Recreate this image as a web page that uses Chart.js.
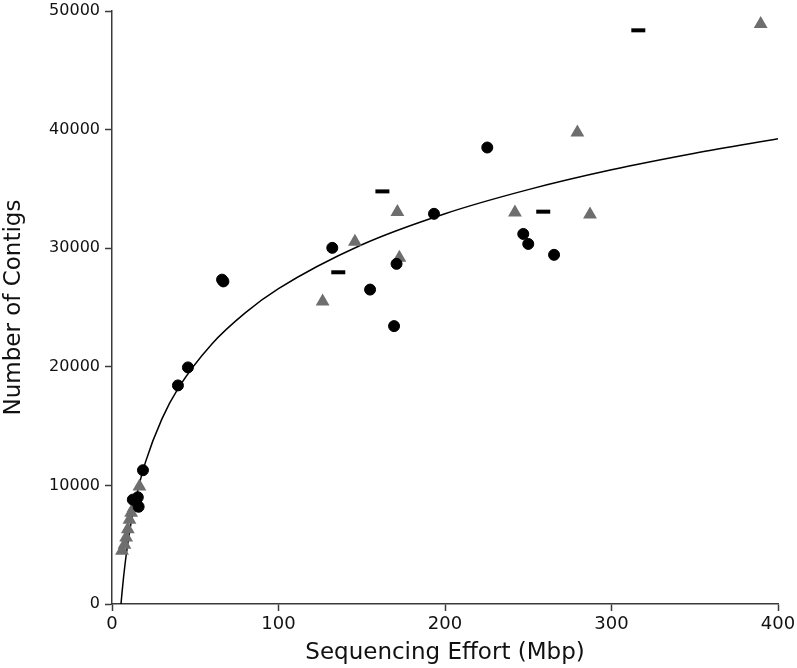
<!DOCTYPE html>
<html>
<head>
<meta charset="utf-8">
<script src="https://cdn.jsdelivr.net/npm/chart.js@4.4.1/dist/chart.umd.min.js"></script>
<style>
  html, body { margin: 0; padding: 0; background: #fff; }
  canvas { display: block; }
</style>
</head>
<body>
<canvas id="contigs" width="797" height="668"></canvas>
<script>
// Sequencing effort (Mbp) vs number of contigs

// black circles
const circleX = [12.5, 14.5, 15.5, 16, 18.6, 39.6, 45.6, 66.1, 66.9, 132.3, 155, 169.4, 170.9, 193.4, 225.4, 247, 250, 265.5];
const circleY = [8800, 8700, 9000, 8200, 11280, 18430, 19950, 27350, 27200, 30030, 26510, 23430, 28680, 32900, 38490, 31200, 30360, 29440];

// grey triangles
const triX = [6, 7.5, 8.5, 9.5, 10.5, 11.5, 13, 14.5, 16.5, 126.5, 145.9, 171.4, 172.6, 242, 279.5, 287.1, 389.6];
const triY = [4500, 5000, 5600, 6300, 7100, 7700, 8100, 8800, 9900, 25500, 30550, 33050, 29200, 33000, 39750, 32850, 48900];

// black dashes
const dashX = [135.9, 162.4, 259, 316.1];
const dashY = [27970, 34790, 33080, 48370];

// fitted curve
const fitX = [5.4, 6, 7, 8, 10, 12, 15, 20, 30, 40, 60, 80, 100, 150, 200, 250, 300, 350, 400];
const fitY = [0, 940, 2340, 3560, 5600, 7260, 9290, 11920, 15610, 18240, 21930, 24550, 26590, 30290, 32910, 34940, 36610, 38010, 39230];

const xTicks = [0, 100, 200, 300, 400];
const yTicks = [0, 10000, 20000, 30000, 40000, 50000];

const toPoints = (xs, ys) => xs.map((x, i) => ({ x: x, y: ys[i] }));

const axisColor = '#3a3a3a';

new Chart(document.getElementById('contigs'), {
    type: 'scatter',
    data: {
        datasets: [
            {
                label: 'circles',
                data: toPoints(circleX, circleY),
                pointStyle: 'circle',
                pointRadius: 5.5,
                backgroundColor: '#000',
                borderColor: '#000',
                borderWidth: 1,
                order: 1
            },
            {
                label: 'dashes',
                data: toPoints(dashX, dashY),
                pointStyle: 'line',
                pointRadius: 7,
                borderColor: '#000',
                borderWidth: 4,
                order: 2
            },
            {
                label: 'triangles',
                data: toPoints(triX, triY),
                pointStyle: 'triangle',
                pointRadius: 8,
                backgroundColor: '#6e6e6e',
                borderColor: '#6e6e6e',
                borderWidth: 0,
                order: 3
            },
            {
                label: 'fit',
                data: toPoints(fitX, fitY),
                showLine: true,
                pointRadius: 0,
                borderColor: '#000',
                borderWidth: 1.5,
                cubicInterpolationMode: 'monotone',
                fill: false,
                order: 10
            }
        ]
    },
    options: {
        responsive: false,
        animation: false,
        layout: { padding: { top: 10, right: 19, left: 0, bottom: 0 } },
        plugins: {
            legend: { display: false },
            tooltip: { enabled: false }
        },
        scales: {
            x: {
                type: 'linear',
                min: 0,
                max: 400,
                afterFit: s => { s.height = 64; s.paddingLeft = 0; s.paddingRight = 0; },
                afterBuildTicks: s => { s.ticks = xTicks.map(v => ({ value: v })); },
                border: { display: true, color: axisColor, width: 1.5 },
                grid: { drawOnChartArea: false, drawTicks: true, tickLength: 7, tickColor: axisColor, tickWidth: 1.5 },
                ticks: {
                    color: '#111',
                    padding: 3,
                    maxRotation: 0,
                    font: { family: 'DejaVu Sans', size: 18 }
                },
                title: {
                    display: true,
                    text: 'Sequencing Effort (Mbp)',
                    color: '#111',
                    padding: { top: 0, bottom: 1 },
                    font: { family: 'DejaVu Sans', size: 23 }
                }
            },
            y: {
                type: 'linear',
                min: 0,
                max: 50000,
                afterFit: s => { s.width = 112; s.paddingTop = 0; s.paddingBottom = 0; },
                afterBuildTicks: s => { s.ticks = yTicks.map(v => ({ value: v })); },
                border: { display: true, color: axisColor, width: 1.5 },
                grid: { drawOnChartArea: false, drawTicks: true, tickLength: 7, tickColor: axisColor, tickWidth: 1.5 },
                ticks: {
                    color: '#111',
                    padding: 5,
                    callback: v => String(v),
                    font: { family: 'DejaVu Sans', size: 16 }
                },
                title: {
                    display: true,
                    text: 'Number of Contigs',
                    color: '#111',
                    padding: { top: 0, bottom: 0 },
                    font: { family: 'DejaVu Sans', size: 23 }
                }
            }
        }
    }
});
</script>
</body>
</html>
